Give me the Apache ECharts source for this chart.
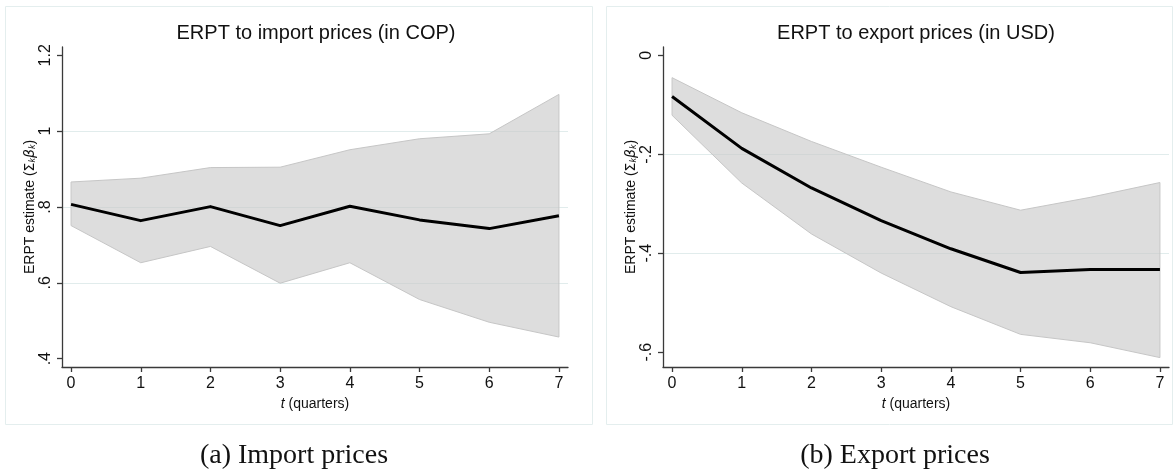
<!DOCTYPE html>
<html>
<head>
<meta charset="utf-8">
<script src="https://cdn.jsdelivr.net/npm/echarts@6/dist/echarts.min.js"></script>
<style>
  html, body { margin: 0; padding: 0; background: #ffffff; }
  #chart { width: 1174px; height: 474px; }
</style>
</head>
<body>
<div id="chart"></div>
<script>
// Horizon in quarters
const quarters = [0, 1, 2, 3, 4, 5, 6, 7];

// Cumulative pass-through to import prices (COP) with confidence band
const importEst = [0.807, 0.764, 0.801, 0.751, 0.802, 0.766, 0.743, 0.777];
const importLo  = [0.751, 0.653, 0.696, 0.599, 0.653, 0.556, 0.496, 0.457];
const importHi  = [0.866, 0.876, 0.904, 0.905, 0.951, 0.980, 0.993, 1.097];

// Cumulative pass-through to export prices (USD) with confidence band
const exportEst = [-0.083, -0.188, -0.268, -0.334, -0.391, -0.439, -0.433, -0.433];
const exportLo  = [-0.121, -0.258, -0.361, -0.440, -0.508, -0.564, -0.581, -0.611];
const exportHi  = [-0.045, -0.116, -0.174, -0.226, -0.276, -0.313, -0.287, -0.257];

// Tick values shown on each axis
const importTicks = [0.4, 0.6, 0.8, 1, 1.2];
const exportTicks = [-0.6, -0.4, -0.2, 0];

const panelTitles = ['ERPT to import prices (in COP)', 'ERPT to export prices (in USD)'];
const captions = ['(a) Import prices', '(b) Export prices'];

const SANS = 'Liberation Sans, Arial, sans-serif';
const SERIF = 'Liberation Serif, Times New Roman, serif';
const AXIS_COLOR = '#3a3a3a';
const GRID_COLOR = '#e1ecec';
const BAND_FILL = 'rgba(200,200,200,0.62)';
const BAND_EDGE = '#c6c6c6';

// Stata-style number format: no leading zero (".8", "-.2")
function stataNum(v) {
  const r = Math.round(v * 1000) / 1000;
  if (r === 0) return '0';
  const s = String(Math.abs(r)).replace(/^0\./, '.');
  return (r < 0 ? '-' : '') + s;
}

function xAxisFor(gridIndex) {
  return {
    type: 'value', gridIndex: gridIndex, min: -0.13, max: 7.13,
    name: '{i|t} (quarters)', nameLocation: 'middle', nameGap: 28,
    nameTextStyle: {
      fontFamily: SANS, fontSize: 14, color: '#111',
      rich: { i: { fontFamily: SANS, fontSize: 14, fontStyle: 'italic', color: '#111' } }
    },
    axisLine: { show: true, onZero: false, lineStyle: { color: AXIS_COLOR, width: 1.3 } },
    axisTick: { show: true, length: 5, customValues: quarters, lineStyle: { color: AXIS_COLOR, width: 1.3 } },
    axisLabel: { customValues: quarters, margin: 9, fontFamily: SANS, fontSize: 16, color: '#111',
                 formatter: v => String(v) },
    splitLine: { show: false }
  };
}

function yAxisFor(gridIndex, lo, hi, ticks, splitNumber) {
  return {
    type: 'value', gridIndex: gridIndex, min: lo, max: hi, splitNumber: splitNumber,
    name: 'ERPT estimate ({g|Σ}{k|k}{b|β}{k|k})',
    nameLocation: 'middle', nameGap: 25,
    nameTextStyle: {
      fontFamily: SANS, fontSize: 14, color: '#111',
      rich: {
        g: { fontFamily: 'DejaVu Sans, ' + SANS, fontSize: 14, color: '#111' },
        b: { fontFamily: 'DejaVu Sans, ' + SANS, fontSize: 14, fontStyle: 'italic', color: '#111' },
        k: { fontFamily: SANS, fontSize: 9, fontStyle: 'italic', color: '#111', verticalAlign: 'bottom', padding: [5, 0, 0, 0] }
      }
    },
    axisLine: { show: true, onZero: false, lineStyle: { color: AXIS_COLOR, width: 1.3 } },
    axisTick: { show: true, length: 5, customValues: ticks, lineStyle: { color: AXIS_COLOR, width: 1.3 } },
    axisLabel: { customValues: ticks, rotate: 90, margin: 8, fontFamily: SANS, fontSize: 16, color: '#111',
                 formatter: stataNum },
    splitLine: { show: true, showMinLine: false, showMaxLine: false,
                 lineStyle: { color: GRID_COLOR, width: 1.2 } }
  };
}

// Confidence band as a closed polygon: upper edge then lower edge reversed
function bandSeries(axisIndex, lo, hi) {
  return {
    type: 'custom', xAxisIndex: axisIndex, yAxisIndex: axisIndex, z: 2,
    silent: true, clip: true,
    data: [[quarters[0], lo[0]]],
    renderItem: function (params, api) {
      const pts = [];
      for (let i = 0; i < quarters.length; i++) pts.push(api.coord([quarters[i], hi[i]]));
      for (let i = quarters.length - 1; i >= 0; i--) pts.push(api.coord([quarters[i], lo[i]]));
      return {
        type: 'polygon',
        shape: { points: pts },
        style: { fill: BAND_FILL, stroke: BAND_EDGE, lineWidth: 1 }
      };
    }
  };
}

function lineSeries(axisIndex, est) {
  return {
    type: 'line', xAxisIndex: axisIndex, yAxisIndex: axisIndex, z: 3,
    silent: true, symbol: 'none', animation: false,
    data: quarters.map((q, i) => [q, est[i]]),
    lineStyle: { color: '#000', width: 3, join: 'round' }
  };
}

const chart = echarts.init(document.getElementById('chart'), null, { renderer: 'canvas' });

chart.setOption({
  animation: false,
  backgroundColor: '#ffffff',
  title: [
    { text: panelTitles[0], left: 316, top: 23, textAlign: 'center', padding: 0,
      textStyle: { fontFamily: SANS, fontSize: 20, fontWeight: 'normal', color: '#111' } },
    { text: panelTitles[1], left: 916, top: 23, textAlign: 'center', padding: 0,
      textStyle: { fontFamily: SANS, fontSize: 20, fontWeight: 'normal', color: '#111' } },
    { text: captions[0], left: 294, top: 442, textAlign: 'center', padding: 0,
      textStyle: { fontFamily: SERIF, fontSize: 28, fontWeight: 'normal', color: '#111' } },
    { text: captions[1], left: 895, top: 442, textAlign: 'center', padding: 0,
      textStyle: { fontFamily: SERIF, fontSize: 28, fontWeight: 'normal', color: '#111' } }
  ],
  graphic: [
    { type: 'rect', z: -1, silent: true, shape: { x: 5.5, y: 6.5, width: 587, height: 418 },
      style: { fill: 'none', stroke: '#e4eeee', lineWidth: 1 } },
    { type: 'rect', z: -1, silent: true, shape: { x: 606.5, y: 6.5, width: 566, height: 418 },
      style: { fill: 'none', stroke: '#e4eeee', lineWidth: 1 } }
  ],
  grid: [
    { left: 62, top: 47, width: 506, height: 320 },
    { left: 663, top: 47, width: 506, height: 320 }
  ],
  xAxis: [xAxisFor(0), xAxisFor(1)],
  yAxis: [
    yAxisFor(0, 0.378, 1.222, importTicks, 4),
    yAxisFor(1, -0.630, 0.017, exportTicks, 3)
  ],
  series: [
    bandSeries(0, importLo, importHi),
    lineSeries(0, importEst),
    bandSeries(1, exportLo, exportHi),
    lineSeries(1, exportEst)
  ]
});
</script>
</body>
</html>
